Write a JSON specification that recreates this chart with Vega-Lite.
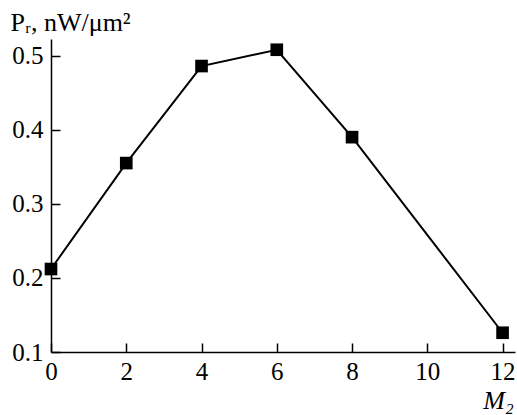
{
  "$schema": "https://vega.github.io/schema/vega-lite/v6.json",
  "width": 464,
  "height": 313,
  "autosize": {"type": "none"},
  "padding": {"left": 51, "top": 39, "right": 2, "bottom": 63},
  "background": "white",
  "config": {
    "view": {"stroke": null},
    "axis": {
      "labelFont": "Liberation Serif",
      "titleFont": "Liberation Serif",
      "labelFontSize": 25,
      "titleFontSize": 26,
      "labelColor": "black",
      "titleColor": "black",
      "domainColor": "black",
      "tickColor": "black",
      "domainWidth": 1.5,
      "tickWidth": 1.5,
      "grid": false,
      "titleFontWeight": "normal"
    }
  },
  "data": {
    "values": [
      {"M2": 0, "Pr": 0.212},
      {"M2": 2, "Pr": 0.355},
      {"M2": 4, "Pr": 0.486},
      {"M2": 6, "Pr": 0.508},
      {"M2": 8, "Pr": 0.390},
      {"M2": 12, "Pr": 0.126}
    ]
  },
  "encoding": {
    "x": {
      "field": "M2",
      "type": "quantitative",
      "scale": {"domain": [0, 12.33], "nice": false, "zero": false},
      "axis": {
        "values": [0, 2, 4, 6, 8, 10, 12],
        "tickSize": -9,
        "labelPadding": 36,
        "labelBaseline": "alphabetic",
        "labelFlush": false,
        "title": "M₂",
        "titleFontStyle": "italic",
        "titleAlign": "center",
        "titleBaseline": "alphabetic",
        "titleX": 447,
        "titleY": 56,
        "titleAnchor": null
      }
    },
    "y": {
      "field": "Pr",
      "type": "quantitative",
      "scale": {"domain": [0.1, 0.5225], "nice": false, "zero": false},
      "axis": {
        "values": [0.1, 0.2, 0.3, 0.4, 0.5],
        "format": ".1f",
        "tickSize": -9,
        "labelPadding": 17,
        "labelFlush": false,
        "title": "Pᵣ, nW/μm²",
        "titleAngle": 0,
        "titleAlign": "left",
        "titleBaseline": "alphabetic",
        "titleX": -41,
        "titleY": -9,
        "titleAnchor": null
      }
    }
  },
  "layer": [
    {"mark": {"type": "line", "color": "black", "strokeWidth": 2}},
    {"mark": {"type": "square", "color": "black", "filled": true, "opacity": 1, "size": 160}}
  ]
}
